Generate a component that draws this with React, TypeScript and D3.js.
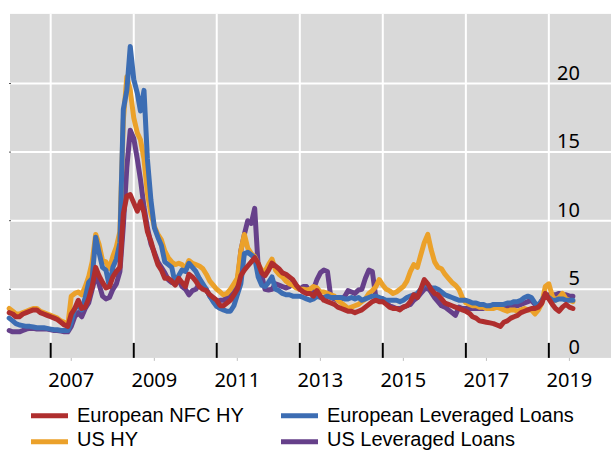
import React, { useEffect, useRef } from "react"
import * as d3 from "d3"

// labels
const yearLabels = [2007, 2009, 2011, 2013, 2015, 2017, 2019]
const yTicks = [0, 5, 10, 15, 20]
const seriesNames = ["European NFC HY", "US HY", "European Leveraged Loans", "US Leveraged Loans"]
const seriesColors = ["#AF2E2E", "#EBA12A", "#3C6DB3", "#66408A"]

// monthly values, Jan 2006 - Aug 2019 (one row per year)
const euNfcHy = [
  3.3, 3.2, 3.0, 3.0, 3.2, 3.3, 3.4, 3.5, 3.5, 3.3, 3.2, 3.1,
  3.0, 2.9, 2.8, 2.6, 2.4, 2.3, 3.2, 3.6, 4.2, 3.6, 3.7, 4.3,
  5.2, 6.6, 6.0, 5.5, 5.1, 5.2, 5.9, 6.3, 6.6, 10.5, 11.8, 11.9,
  11.3, 10.7, 11.4, 10.6, 9.2, 8.5, 7.6, 6.8, 6.4, 5.8, 5.8, 5.6,
  5.3, 5.8, 5.5, 5.2, 6.1, 5.9, 5.6, 5.2, 5.0, 4.9, 4.6, 4.4,
  4.2, 3.8, 3.8, 4.0, 4.2, 4.6, 5.0, 6.0, 6.4, 6.7, 7.0, 7.3,
  6.9, 6.2, 6.0, 6.4, 6.9, 6.7, 6.5, 6.2, 6.1, 5.9, 5.7, 5.3,
  5.0, 4.8, 4.7, 4.7, 4.5, 4.9, 4.5, 4.2, 4.1, 4.0, 3.9, 3.7,
  3.6, 3.5, 3.4, 3.4, 3.3, 3.4, 3.5, 3.7, 3.9, 4.1, 4.2, 4.1,
  4.1, 3.9, 3.7, 3.6, 3.6, 3.5, 3.7, 3.8, 4.1, 4.6, 4.4, 5.0,
  5.7, 5.4, 5.0, 4.7, 4.6, 4.3, 4.0, 3.9, 3.8, 3.7, 3.6, 3.5,
  3.4, 3.25, 3.0, 2.9, 2.7, 2.65, 2.6, 2.55, 2.5, 2.4, 2.3, 2.6,
  2.7, 2.9, 3.0, 3.1, 3.3, 3.4, 3.5, 3.6, 3.6, 3.7, 4.0, 4.7,
  4.3, 3.9, 3.6, 3.4, 3.7, 3.9, 3.7, 3.6,
]

const usHy = [
  3.6, 3.4, 3.2, 3.2, 3.3, 3.4, 3.5, 3.6, 3.6, 3.4, 3.3, 3.2,
  3.1, 3.0, 2.9, 2.7, 2.6, 2.4, 4.5, 4.7, 4.8, 4.6, 5.2, 5.9,
  7.0, 9.0, 8.3, 7.1, 7.0, 6.5, 7.4, 8.1, 9.2, 17.3, 20.5, 19.5,
  17.5, 16.4, 15.9, 14.5, 12.0, 10.5, 9.6, 9.0, 8.6, 7.8, 7.3, 7.0,
  6.8, 6.9, 6.8, 6.5, 7.1, 6.9, 6.8, 6.7, 6.5, 6.1, 5.6, 5.3,
  5.0, 4.8, 4.6, 4.7, 5.0, 5.4, 5.8, 7.8, 9.0, 8.0, 7.6, 7.4,
  6.8, 6.4, 6.3, 6.8, 7.2, 6.4, 6.1, 5.9, 5.6, 5.4, 5.3, 5.1,
  5.0, 5.0, 4.95, 5.0, 5.2, 5.1, 4.8, 4.8, 4.7, 4.6, 4.5, 4.2,
  4.0, 3.8, 3.6, 3.7, 3.8, 3.9, 4.1, 4.3, 4.7, 4.9, 5.2, 5.7,
  5.3, 5.0, 4.9, 4.7, 4.8, 5.0, 5.2, 5.6, 6.3, 6.8, 6.6, 7.5,
  8.4, 9.0, 7.9, 7.0, 6.6, 6.5, 6.1, 5.8, 5.5, 5.3, 5.0, 4.4,
  4.0, 3.9, 3.8, 3.8, 3.7, 3.7, 3.6, 3.6, 3.6, 3.7, 3.6, 3.5,
  3.4, 3.5, 3.5, 3.4, 3.5, 3.6, 3.5, 3.5, 3.2, 3.5, 4.0, 5.2,
  5.4, 4.5, 4.2, 4.4, 4.7, 4.3, 4.2, 4.1,
]

const euLevLoans = [
  2.9, 2.7, 2.5, 2.4, 2.35, 2.3, 2.3, 2.25, 2.2, 2.2, 2.2, 2.15,
  2.1, 2.05, 2.05, 2.0, 2.0, 2.0, 2.6, 3.6, 3.8, 3.5, 4.4, 5.5,
  5.8, 8.8, 7.7, 6.6, 6.4, 5.2, 6.6, 7.2, 8.4, 18.1, 19.5, 22.7,
  20.3, 19.3, 18.0, 19.5, 14.5, 11.5, 9.5, 8.8, 8.2, 7.0, 6.8, 6.6,
  5.4, 6.0, 6.4, 6.3, 6.9, 6.6, 6.3, 5.8, 5.4, 5.0, 4.5, 4.1,
  3.75, 3.6, 3.5, 3.4, 3.4, 3.8, 4.6, 5.4, 7.6, 7.7, 7.5, 7.3,
  5.9, 5.3, 5.2, 5.5, 5.9, 5.0, 4.9, 4.7, 4.6, 4.6, 4.5, 4.5,
  4.5, 4.4, 4.3, 4.2, 4.3, 4.5, 4.4, 4.4, 4.5, 4.4, 4.4, 4.4,
  4.4, 4.3, 4.3, 4.4, 4.3, 4.4, 4.2, 4.3, 4.4, 4.5, 4.5, 4.4,
  4.3, 4.2, 4.2, 4.2, 4.2, 4.1, 4.2, 4.4, 4.5, 4.6, 4.7, 5.0,
  5.4, 5.3, 5.1, 5.1, 5.0, 4.8, 4.6, 4.5, 4.4, 4.3, 4.2, 4.2,
  4.2, 4.1, 4.0, 4.0, 3.9, 3.9, 3.8, 3.8, 3.9, 3.9, 3.9, 3.9,
  4.0, 4.0, 4.1, 4.1, 4.2, 4.4, 4.5, 4.4, 4.0, 3.8, 4.2, 4.6,
  4.4, 4.2, 4.2, 4.3, 4.3, 4.2, 4.2, 4.2,
]

const usLevLoans = [
  2.0, 1.9, 1.9, 1.9, 2.0, 2.1, 2.15, 2.15, 2.1, 2.1, 2.1, 2.1,
  2.05, 2.0, 2.0, 1.95, 1.9, 1.9, 2.3, 3.0, 3.3, 3.0, 3.6, 4.0,
  5.0, 6.0, 5.4, 4.5, 4.3, 4.4, 5.0, 5.4, 6.3, 9.6, 13.9, 16.6,
  16.0, 14.5, 13.0, 11.0, 9.5, 8.3, 7.7, 7.0, 6.6, 6.2, 5.7, 5.5,
  5.4, 5.7, 5.2, 5.0, 4.6, 4.9, 5.0, 5.4, 5.2, 5.0, 4.5, 4.2,
  4.1, 4.2, 4.2, 4.4, 4.5, 4.8, 5.4, 7.8, 9.0, 10.0, 9.8, 10.9,
  6.6, 6.0, 5.0, 4.95, 5.0, 5.4, 5.3, 5.2, 5.1, 5.2, 5.5, 5.2,
  5.0, 5.2, 5.2, 4.8, 5.0, 5.7, 6.2, 6.4, 6.3, 4.4, 4.3, 4.2,
  4.3, 4.5, 4.9, 4.8, 4.7, 4.95, 5.0, 5.8, 6.4, 6.3, 4.4, 4.2,
  4.3, 4.0, 3.8, 3.7, 3.6, 3.6, 3.7, 3.8, 3.9, 4.2, 4.4, 4.7,
  5.0, 5.1, 4.8, 4.4, 4.1, 3.8, 3.7, 3.5, 3.3, 3.1, 3.7, 3.6,
  3.6, 3.6, 3.6, 3.6, 3.6, 3.6, 3.7, 3.8, 3.7, 3.7, 3.8, 3.8,
  3.7, 3.7, 3.8, 3.8, 3.9, 4.0, 4.1, 4.2, 3.9, 3.8, 4.2, 4.5,
  4.6, 4.6, 4.6, 4.7, 4.6, 4.6, 4.5, 4.5,
]

export default function App() {
  const ref = useRef<SVGSVGElement>(null)

  useEffect(() => {
    const svg = d3.select(ref.current)
    svg.selectAll("*").remove()

    var plotLeft = 10,
      plotRight = 611,
      plotTop = 14.9,
      plotBottom = 357.9

    var months = d3.timeMonth.range(new Date(2006, 0, 1), new Date(2019, 8, 1))

    var x = d3
      .scaleTime()
      .domain([new Date(2006, 0, 1), new Date(2020, 6, 1)])
      .range([9.2, 611])

    var y = d3.scaleLinear().domain([0, 25]).range([plotBottom, plotTop])

    // grey plot area
    svg
      .append("rect")
      .attr("x", plotLeft)
      .attr("y", plotTop - 1)
      .attr("width", plotRight - plotLeft)
      .attr("height", plotBottom - plotTop + 1)
      .attr("fill", "#D9D9D9")

    // horizontal grid
    svg
      .selectAll(".hgrid")
      .data(yTicks.filter((d) => d > 0))
      .enter()
      .append("line")
      .attr("x1", plotLeft)
      .attr("x2", plotRight)
      .attr("y1", (d) => y(d))
      .attr("y2", (d) => y(d))
      .attr("stroke", "#fff")
      .attr("stroke-width", 2)

    // vertical grid at the start of each labelled year
    svg
      .selectAll(".vgrid")
      .data(yearLabels)
      .enter()
      .append("line")
      .attr("x1", (d) => x(new Date(d, 0, 1)))
      .attr("x2", (d) => x(new Date(d, 0, 1)))
      .attr("y1", plotTop - 1)
      .attr("y2", plotBottom)
      .attr("stroke", "#fff")
      .attr("stroke-width", 2)

    // black ticks pointing up from the bottom
    svg
      .selectAll(".vtick")
      .data(yearLabels)
      .enter()
      .append("line")
      .attr("x1", (d) => x(new Date(d, 0, 1)))
      .attr("x2", (d) => x(new Date(d, 0, 1)))
      .attr("y1", plotBottom - 15)
      .attr("y2", plotBottom)
      .attr("stroke", "#000")
      .attr("stroke-width", 2)

    // small grey ticks under the axis at the label positions
    svg
      .selectAll(".mtick")
      .data(yearLabels)
      .enter()
      .append("line")
      .attr("x1", (d) => x(new Date(d, 6, 1)))
      .attr("x2", (d) => x(new Date(d, 6, 1)))
      .attr("y1", plotBottom)
      .attr("y2", plotBottom + 3)
      .attr("stroke", "#BFBFBF")
      .attr("stroke-width", 1)

    // tiny left ticks
    svg
      .selectAll(".ltick")
      .data(yTicks.filter((d) => d > 0))
      .enter()
      .append("line")
      .attr("x1", plotLeft - 1)
      .attr("x2", plotLeft + 1)
      .attr("y1", (d) => y(d))
      .attr("y2", (d) => y(d))
      .attr("stroke", "#555")
      .attr("stroke-width", 1)

    // lines, purple at the bottom and red on top
    var allSeries = [euNfcHy, usHy, euLevLoans, usLevLoans]
    var drawOrder = [3, 1, 2, 0]
    var line = d3
      .line<number>()
      .x((d, i) => x(months[i]))
      .y((d) => y(d))

    drawOrder.forEach((k) => {
      svg
        .append("path")
        .attr("d", line(allSeries[k]))
        .attr("fill", "none")
        .attr("stroke", seriesColors[k])
        .attr("stroke-width", 5)
        .attr("stroke-linejoin", "round")
        .attr("stroke-linecap", "round")
    })

    // right-hand value labels, sitting just above each gridline
    svg
      .selectAll(".ylab")
      .data(yTicks)
      .enter()
      .append("text")
      .text((d) => d)
      .attr("x", 580)
      .attr("y", (d) => y(d) - 4)
      .attr("text-anchor", "end")
      .attr("font-family", "'Noto Sans', sans-serif")
      .attr("font-size", 20)
      .attr("fill", "#000")

    // year labels, centred on mid-year
    svg
      .selectAll(".xlab")
      .data(yearLabels)
      .enter()
      .append("text")
      .text((d) => d)
      .attr("x", (d) => x(new Date(d, 6, 1)))
      .attr("y", 387)
      .attr("text-anchor", "middle")
      .attr("font-family", "'Noto Sans', sans-serif")
      .attr("font-size", 20)
      .attr("fill", "#000")

    // legend: two columns, two rows
    var legendX = [31, 281]
    var legendY = [415.8, 441.8]
    var textY = [421.5, 445.5]
    var legendPos = [
      [0, 0],
      [0, 1],
      [1, 0],
      [1, 1],
    ]
    seriesNames.forEach((name, k) => {
      var cx = legendX[legendPos[k][0]]
      var row = legendPos[k][1]
      svg
        .append("line")
        .attr("x1", cx)
        .attr("x2", cx + 37)
        .attr("y1", legendY[row])
        .attr("y2", legendY[row])
        .attr("stroke", seriesColors[k])
        .attr("stroke-width", 5)
      svg
        .append("text")
        .text(name)
        .attr("x", cx + 46)
        .attr("y", textY[row])
        .attr("font-family", "'Liberation Sans', Arial, sans-serif")
        .attr("font-size", 20)
        .attr("fill", "#000")
    })
  }, [])

  return (
    <svg
      ref={ref}
      width={611}
      height={450}
      style={{ position: "absolute", left: 0, top: 0, display: "block" }}
    />
  )
}
